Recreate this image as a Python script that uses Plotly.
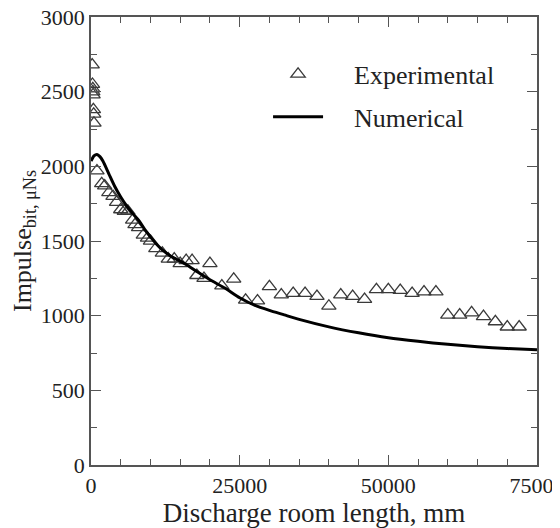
import plotly.graph_objects as go

# Experimental data (discharge room length in mm, impulse bit in uNs)
exp_x = [200, 250, 300, 300, 350, 400, 450, 500,
         1000, 1800, 2300, 3000, 3700, 4300, 5000, 5600, 6200, 7000, 7400, 8000,
         8800, 9500, 10000, 10900, 12000, 13000, 14000, 15000, 16000, 17000,
         17800, 19000, 20000, 22000, 24000, 26000, 28000, 30000, 32000, 34000,
         36000, 38000, 40000, 42000, 44000, 46000, 48000, 50000, 52000, 54000,
         56000, 58000, 60000, 62000, 64000, 66000, 68000, 70000, 72000]
exp_y = [2680, 2550, 2520, 2500, 2480, 2380, 2350, 2290,
         1970, 1885, 1870, 1825, 1800, 1760, 1710, 1700, 1700, 1640, 1610, 1590,
         1540, 1520, 1500, 1450, 1420, 1380, 1380, 1350, 1370, 1370,
         1270, 1250, 1350, 1200, 1245, 1105, 1100, 1195, 1140, 1150,
         1150, 1130, 1065, 1140, 1130, 1110, 1175, 1175, 1170, 1150,
         1160, 1160, 1005, 1005, 1020, 995, 960, 925, 925]

# Numerical curve
num_x = [0, 500, 1000, 1500, 2000, 3000, 4000, 5000, 6000, 7000, 8000, 9000,
         10000, 11000, 12000, 13000, 14000, 15000, 16000, 18000, 20000, 22500,
         25000, 27500, 30000, 32500, 35000, 40000, 45000, 50000, 55000, 60000,
         65000, 70000, 75000]
num_y = [2035, 2070, 2080, 2065, 2035, 1950, 1865, 1795, 1735, 1685, 1640, 1580,
         1528, 1480, 1440, 1410, 1385, 1365, 1342, 1290, 1240, 1185,
         1120, 1070, 1035, 1005, 975, 925, 885, 852, 828, 808,
         792, 780, 772]

x_ticks = [0, 25000, 50000, 75000]
x_ticklabels = ["0", "25000", "50000", "75000"]
y_ticks = [0, 500, 1000, 1500, 2000, 2500, 3000]

FONT = "Liberation Serif, Times New Roman, serif"
AXC = "#555555"
TXT = "#222222"
PAD = "\u00a0" * 4

fig = go.Figure()
fig.add_trace(go.Scatter(
    x=exp_x, y=exp_y, mode="markers", name=PAD + "Experimental",
    legendgroup="a",
    marker=dict(symbol="triangle-up-open", size=12.5, color="#3a3a3a",
                line=dict(width=1.3, color="#3a3a3a")),
))
fig.add_trace(go.Scatter(
    x=num_x, y=num_y, mode="lines", name=PAD + "Numerical",
    legendgroup="b",
    line=dict(color="black", width=3, shape="spline", smoothing=0.6),
))

axis_common = dict(
    showline=True, linecolor=AXC, linewidth=1.5, mirror="ticks",
    ticks="inside", ticklen=10, tickwidth=1.3, tickcolor=AXC,
    showgrid=False, zeroline=False, automargin=False,
    ticklabeloverflow="allow",
    tickfont=dict(family=FONT, size=22, color=TXT),
)

fig.update_xaxes(
    range=[0, 75000], tickvals=x_ticks, ticktext=x_ticklabels,
    minor=dict(dtick=5000, tick0=0, ticks="inside", ticklen=6, tickcolor=AXC,
               tickwidth=1.3, showgrid=False),
    title=dict(text="Discharge room length, mm" + "\u00a0" * 2,
               font=dict(family=FONT, size=27, color=TXT), standoff=1),
    **axis_common,
)
fig.update_yaxes(
    range=[0, 3000], tickvals=y_ticks,
    minor=dict(dtick=250, tick0=0, ticks="inside", ticklen=6, tickcolor=AXC,
               tickwidth=1.3, showgrid=False),
    title=dict(text="Impulse<sub>bit, μNs</sub>\u00a0\u00a0",
               font=dict(family=FONT, size=26, color=TXT), standoff=2),
    **axis_common,
)

# page body has an 8px default margin, so the figure is 8px smaller than the window
fig.update_layout(
    width=552, height=520,
    margin=dict(l=83, r=23, t=9, b=63),
    paper_bgcolor="white", plot_bgcolor="white",
    showlegend=True,
    legend=dict(
        x=0.397, y=0.925, xanchor="left", yanchor="top",
        font=dict(family=FONT, size=26, color=TXT),
        bgcolor="rgba(0,0,0,0)", borderwidth=0,
        itemwidth=50, tracegroupgap=6, traceorder="grouped",
    ),
)

fig.write_html("out.html")
